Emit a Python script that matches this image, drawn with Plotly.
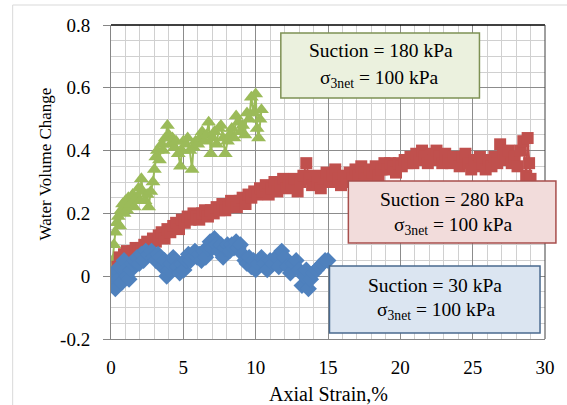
import plotly.graph_objects as go

# ---------------- data ----------------
green_x = [0.0, 0.1, 0.2, 0.3, 0.4, 0.5, 0.6, 0.7, 0.8, 0.9, 1.0, 1.1, 1.2, 1.35, 1.5, 1.6, 1.75, 1.9,
           2.0, 2.1, 2.2, 2.35, 2.5, 2.6, 2.75, 2.9, 3.0, 3.1, 3.2, 3.35, 3.5, 3.6, 3.75, 3.9, 4.0,
           4.1, 4.25, 4.4, 4.5, 4.65, 4.8, 4.9, 5.0, 5.15, 5.3, 5.45, 5.6, 5.7, 5.85, 6.0, 6.15, 6.3,
           6.45, 6.6, 6.75, 6.9, 7.0, 7.15, 7.3, 7.45, 7.6, 7.75, 7.9, 8.05, 8.2, 8.35, 8.5, 8.65,
           8.8, 8.95, 9.1, 9.25, 9.4, 9.55, 9.7, 9.85, 10.0, 10.1, 10.2, 10.3, 10.4]
green_y = [0.00, 0.05, 0.10, 0.14, 0.17, 0.19, 0.16, 0.21, 0.23, 0.20, 0.24, 0.21, 0.25, 0.23, 0.26, 0.22, 0.25, 0.28,
           0.24, 0.31, 0.27, 0.24, 0.26, 0.22, 0.27, 0.30, 0.34, 0.38, 0.40, 0.37, 0.42, 0.40, 0.44, 0.48, 0.45,
           0.42, 0.44, 0.41, 0.43, 0.39, 0.35, 0.40, 0.43, 0.42, 0.44, 0.40, 0.34, 0.41, 0.43, 0.42, 0.44, 0.46,
           0.43, 0.45, 0.49, 0.39, 0.44, 0.46, 0.42, 0.47, 0.48, 0.44, 0.39, 0.43, 0.45, 0.47, 0.44, 0.51,
           0.49, 0.46, 0.48, 0.45, 0.52, 0.50, 0.57, 0.52, 0.58, 0.47, 0.44, 0.50, 0.53]

red_x = [0.3, 0.45, 0.6, 0.8, 0.9, 1.1, 1.3, 1.5, 1.7, 1.9, 2.1, 2.3, 2.5, 2.7, 2.9, 3.1, 3.3, 3.5, 3.7, 3.9,
         4.1, 4.3, 4.5, 4.7, 4.9, 5.1, 5.3, 5.5, 5.7, 5.9, 6.1, 6.3, 6.5, 6.7, 6.9, 7.1, 7.3, 7.5, 7.7, 7.9,
         8.1, 8.3, 8.5, 8.7, 8.9, 9.1, 9.3, 9.5, 9.7, 9.9, 10.1, 10.3, 10.5, 10.7, 10.9, 11.1, 11.3, 11.5,
         11.7, 11.9, 12.1, 12.3, 12.5, 12.7, 12.9, 13.1, 13.3, 13.5, 13.7, 13.9, 14.1, 14.3, 14.5, 14.7,
         14.9, 15.1, 15.3, 15.5, 15.7, 15.9, 16.1, 16.3, 16.5, 16.7, 16.9, 17.1, 17.3, 17.5, 17.7, 17.9,
         18.1, 18.3, 18.5, 18.7, 18.9, 19.1, 19.3, 19.5, 19.7, 19.9, 20.1, 20.3, 20.5, 20.7, 20.9, 21.1,
         21.3, 21.5, 21.7, 21.9, 22.1, 22.3, 22.5, 22.7, 22.9, 23.1, 23.3, 23.5, 23.7, 23.9, 24.1, 24.3,
         24.5, 24.7, 24.9, 25.1, 25.3, 25.5, 25.7, 25.9, 26.1, 26.3, 26.5, 26.7, 26.9, 27.1, 27.3, 27.5,
         27.7, 27.9, 28.1, 28.3, 28.5, 28.7, 28.8, 28.9, 29.0]
red_y = [-0.01, 0.03, 0.06, 0.02, 0.07, 0.08, 0.06, 0.08, 0.09, 0.08, 0.09, 0.10, 0.11, 0.09, 0.12, 0.11, 0.13, 0.14, 0.12, 0.15,
         0.14, 0.16, 0.17, 0.15, 0.18, 0.17, 0.19, 0.18, 0.20, 0.19, 0.18, 0.20, 0.21, 0.19, 0.21, 0.20, 0.22, 0.21, 0.23, 0.21,
         0.22, 0.24, 0.23, 0.22, 0.24, 0.25, 0.23, 0.26, 0.25, 0.27, 0.26, 0.28, 0.27, 0.29, 0.26, 0.28, 0.30, 0.27,
         0.29, 0.31, 0.28, 0.30, 0.29, 0.31, 0.27, 0.30, 0.32, 0.36, 0.31, 0.29, 0.32, 0.30, 0.28, 0.31,
         0.33, 0.30, 0.32, 0.34, 0.31, 0.29, 0.32, 0.30, 0.33, 0.31, 0.34, 0.32, 0.35, 0.33, 0.31, 0.34,
         0.33, 0.35, 0.32, 0.34, 0.36, 0.34, 0.36, 0.35, 0.33, 0.36, 0.35, 0.37, 0.36, 0.38, 0.36, 0.39,
         0.37, 0.40, 0.38, 0.36, 0.39, 0.37, 0.40, 0.38, 0.36, 0.39, 0.37, 0.36, 0.38, 0.37, 0.35, 0.38,
         0.39, 0.36, 0.34, 0.37, 0.35, 0.38, 0.36, 0.34, 0.37, 0.35, 0.38, 0.36, 0.42, 0.39, 0.37, 0.40,
         0.36, 0.38, 0.35, 0.40, 0.43, 0.32, 0.44, 0.36, 0.31]

blue_x = [0.0, 0.1, 0.2, 0.3, 0.4, 0.5, 0.6, 0.75, 0.9, 1.0, 1.1, 1.25, 1.4, 1.5, 1.65, 1.8, 1.95, 2.1, 2.25,
          2.4, 2.6, 2.8, 2.95, 3.1, 3.25, 3.4, 3.55, 3.7, 3.85, 4.0, 4.15, 4.3, 4.45, 4.6, 4.75, 4.9, 5.05,
          5.2, 5.35, 5.5, 5.65, 5.8, 5.95, 6.1, 6.25, 6.4, 6.55, 6.7, 6.85, 7.0, 7.15, 7.3, 7.45, 7.6, 7.75,
          7.9, 8.05, 8.2, 8.35, 8.5, 8.65, 8.8, 8.95, 9.1, 9.25, 9.4, 9.55, 9.7, 9.85, 10.0, 10.2, 10.4,
          10.6, 10.8, 11.0, 11.2, 11.4, 11.6, 11.8, 12.0, 12.2, 12.4, 12.6, 12.8, 13.0, 13.2, 13.35, 13.5,
          13.65, 13.8, 14.0, 14.2, 14.4, 14.6, 14.8, 15.0]
blue_y = [0.00, -0.03, 0.01, -0.04, 0.02, -0.01, 0.03, -0.02, 0.05, 0.02, 0.00, -0.01, 0.02, 0.04, 0.05, 0.06, 0.04, 0.07, 0.05,
          0.08, 0.07, 0.08, 0.06, 0.05, 0.07, 0.06, 0.03, 0.05, 0.00, 0.02, 0.04, 0.06, 0.05, 0.03, 0.01, 0.04, 0.02,
          0.05, 0.07, 0.05, 0.06, 0.08, 0.06, 0.07, 0.05, 0.08, 0.06, 0.09, 0.11, 0.09, 0.12, 0.10, 0.08, 0.10, 0.06,
          0.09, 0.10, 0.08, 0.10, 0.09, 0.11, 0.09, 0.10, 0.07, 0.05, 0.04, 0.06, 0.03, 0.05, 0.02, 0.04, 0.06,
          0.04, 0.02, 0.05, 0.04, 0.06, 0.03, 0.08, 0.06, 0.03, 0.01, 0.04, 0.05, 0.02, -0.03, 0.00, 0.02,
          -0.04, -0.01, 0.01, 0.02, 0.03, 0.04, 0.05, 0.05]

x_ticks = [0, 5, 10, 15, 20, 25, 30]
y_ticks = [-0.2, 0, 0.2, 0.4, 0.6, 0.8]
y_tick_text = ["-0.2", "0", "0.2", "0.4", "0.6", "0.8"]

box_labels = [
    ("Suction = 180 kPa", "σ<sub>3net</sub> = 100 kPa"),
    ("Suction = 280 kPa", "σ<sub>3net</sub> = 100 kPa"),
    ("Suction = 30 kPa", "σ<sub>3net</sub> = 100 kPa"),
]

# ---------------- layout helpers (pixel -> paper) ----------------
L, R, T, B = 111, 548, 25, 339
W, H = 567, 405


def px(x):
    return (x - L) / (R - L)


def py(y):
    return (B - y) / (B - T)


FONT = "Liberation Serif"

fig = go.Figure()
fig.add_trace(go.Scatter(x=green_x, y=green_y, mode="lines+markers",
                         line=dict(color="#9BBB59", width=2),
                         marker=dict(symbol="triangle-up", size=13, color="#9BBB59"),
                         showlegend=False))
fig.add_trace(go.Scatter(x=red_x, y=red_y, mode="lines+markers",
                         line=dict(color="#C0504D", width=2),
                         marker=dict(symbol="square", size=12, color="#C0504D"),
                         showlegend=False))
fig.add_trace(go.Scatter(x=blue_x, y=blue_y, mode="lines+markers",
                         line=dict(color="#4F81BD", width=2),
                         marker=dict(symbol="diamond", size=13, color="#4F81BD"),
                         showlegend=False))

shapes = []
# outer chart frame
shapes.append(dict(type="rect", xref="paper", yref="paper", layer="below",
                   x0=px(12), x1=px(600), y0=py(440), y1=py(5),
                   line=dict(color="#D9D9D9", width=1), fillcolor="rgba(0,0,0,0)"))
# top and right plot border
shapes.append(dict(type="line", xref="paper", yref="paper", x0=0, x1=1, y0=1, y1=1,
                   line=dict(color="#000000", width=1.5)))
shapes.append(dict(type="line", xref="paper", yref="paper", x0=1, x1=1, y0=0, y1=1,
                   line=dict(color="#404040", width=1)))

boxes = [
    dict(x0=282, x1=482, y0=33, y1=98, fill="#EBF1DE", line="#7E9154",
         l1=(383, 51), l2=(381, 79)),
    dict(x0=350, x1=559, y0=181, y1=243, fill="#F2DCDB", line="#A84E4C",
         l1=(454, 199), l2=(455, 226)),
    dict(x0=331, x1=543, y0=266, y1=333, fill="#DBE5F1", line="#4A6A8F",
         l1=(437, 285), l2=(438, 311)),
]
annotations = []
for b, (t1, t2) in zip(boxes, box_labels):
    shapes.append(dict(type="rect", xref="paper", yref="paper", layer="above",
                       x0=px(b["x0"]), x1=px(b["x1"]), y0=py(b["y1"]), y1=py(b["y0"]),
                       fillcolor=b["fill"], line=dict(color=b["line"], width=1.5)))
    annotations.append(dict(text=t1, xref="paper", yref="paper", x=px(b["l1"][0]), y=py(b["l1"][1]),
                            xanchor="center", yanchor="middle", showarrow=False,
                            font=dict(family=FONT, size=19.5, color="#000000")))
    annotations.append(dict(text=t2, xref="paper", yref="paper", x=px(b["l2"][0]), y=py(b["l2"][1]),
                            xanchor="center", yanchor="middle", showarrow=False,
                            font=dict(family=FONT, size=19.5, color="#000000")))

# axis titles
annotations.append(dict(text="Axial Strain,%", xref="paper", yref="paper", x=px(330), y=py(394),
                        xanchor="center", yanchor="middle", showarrow=False,
                        font=dict(family=FONT, size=20, color="#000000")))
annotations.append(dict(text="Water Volume Change", xref="paper", yref="paper", x=px(45), y=py(164),
                        xanchor="center", yanchor="middle", showarrow=False, textangle=-90,
                        font=dict(family=FONT, size=17, color="#000000")))

fig.update_layout(
    width=W, height=H,
    margin=dict(l=L, r=W - R, t=T, b=H - B, pad=0),
    paper_bgcolor="white", plot_bgcolor="white",
    font=dict(family=FONT, size=19, color="#000000"),
    shapes=shapes, annotations=annotations,
    xaxis=dict(range=[0, 30], tickvals=x_ticks, showgrid=True, gridcolor="#8C8C8C", gridwidth=1,
               minor=dict(dtick=1, showgrid=True, gridcolor="#D0D0D0", gridwidth=1),
               showline=True, linecolor="#868686", linewidth=1, zeroline=False,
               ticks="", ticklabelstandoff=11,
               tickfont=dict(family=FONT, size=19, color="#000000")),
    yaxis=dict(range=[-0.2, 0.8], tickvals=y_ticks, ticktext=y_tick_text, showgrid=True,
               gridcolor="#8C8C8C", gridwidth=1,
               minor=dict(dtick=0.05, tick0=0, showgrid=True, gridcolor="#D0D0D0", gridwidth=1),
               showline=True, linecolor="#868686", linewidth=1, zeroline=False,
               ticks="outside", ticklen=7, tickcolor="#868686", ticklabelstandoff=9,
               tickfont=dict(family=FONT, size=19, color="#000000")),
)

fig.write_html("out.html")
